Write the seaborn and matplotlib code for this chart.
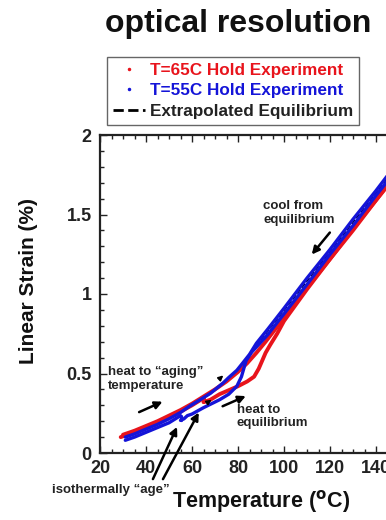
import pandas as pd
import matplotlib
matplotlib.use('Agg')
import matplotlib.pyplot as plt
import seaborn as sns
from matplotlib.lines import Line2D
from matplotlib.ticker import MultipleLocator

# T=65C hold experiment (red)
red_heat_T = [29, 35, 40, 45, 50, 55, 60, 65]
red_heat_s = [0.10, 0.13, 0.16, 0.19, 0.225, 0.26, 0.30, 0.345]
red_hold_T = [65, 65]
red_hold_s = [0.345, 0.32]
red_heat2_T = [65, 68, 72, 76, 80, 84, 87, 89, 90.5, 92, 94, 97, 100, 110, 120, 130, 140, 150]
red_heat2_s = [0.32, 0.335, 0.37, 0.395, 0.42, 0.45, 0.48, 0.53, 0.58, 0.63, 0.68, 0.75, 0.83, 1.03, 1.22, 1.40, 1.59, 1.77]
red_cool_T = [150, 140, 130, 120, 110, 100, 92, 88, 84, 80, 75, 70, 65, 60, 55, 50, 45, 40, 35, 30]
red_cool_s = [1.78, 1.59, 1.41, 1.22, 1.04, 0.85, 0.70, 0.63, 0.565, 0.51, 0.45, 0.40, 0.355, 0.31, 0.27, 0.235, 0.20, 0.17, 0.14, 0.115]

# T=55C hold experiment (blue)
blue_heat_T = [31, 35, 40, 45, 50, 55]
blue_heat_s = [0.08, 0.10, 0.13, 0.16, 0.19, 0.235]
blue_hold_T = [55, 55]
blue_hold_s = [0.235, 0.205]
blue_heat2_T = [55, 56.5, 58, 60, 65, 72, 76, 79.5, 81.5, 83.5, 86, 89.5, 93, 97, 100, 110, 120, 130, 140, 150]
blue_heat2_s = [0.205, 0.215, 0.235, 0.245, 0.285, 0.335, 0.37, 0.42, 0.48, 0.58, 0.635, 0.69, 0.745, 0.82, 0.875, 1.06, 1.25, 1.43, 1.62, 1.80]
blue_cool_T = [150, 140, 130, 120, 110, 100, 93, 88, 85, 82, 79.5, 76, 73.5, 68, 63, 59, 55, 50, 45, 40, 35, 31]
blue_cool_s = [1.84, 1.65, 1.47, 1.28, 1.10, 0.91, 0.78, 0.69, 0.62, 0.565, 0.52, 0.475, 0.44, 0.375, 0.33, 0.295, 0.255, 0.215, 0.18, 0.15, 0.12, 0.10]

# extrapolated equilibrium line
eq_T = [88, 150]
eq_s = [0.675, 1.82]

legend_labels = ['T=65C Hold Experiment', 'T=55C Hold Experiment', 'Extrapolated Equilibrium']
xticks = [20, 40, 60, 80, 100, 120, 140]
yticks = [0, 0.5, 1, 1.5, 2]
ytick_labels = ['0', '0.5', '1', '1.5', '2']

RED = '#e8141c'
BLUE = '#1414d8'


def build(parts):
    frames = []
    for i, (T, s) in enumerate(parts):
        frames.append(pd.DataFrame({'T': T, 'strain': s, 'seg': i}))
    return pd.concat(frames, ignore_index=True)


red = build([(red_heat_T, red_heat_s), (red_hold_T, red_hold_s),
             (red_heat2_T, red_heat2_s), (red_cool_T, red_cool_s)])
blue = build([(blue_heat_T, blue_heat_s), (blue_hold_T, blue_hold_s),
              (blue_heat2_T, blue_heat2_s), (blue_cool_T, blue_cool_s)])
eq = pd.DataFrame({'T': eq_T, 'strain': eq_s})

sns.set_style('ticks')
plt.rcParams['font.family'] = ['Liberation Sans', 'DejaVu Sans']
plt.rcParams['font.weight'] = 'bold'

fig = plt.figure(figsize=(3.86, 5.2), dpi=100)
ax = fig.add_axes([100 / 386, 67 / 520, 414 / 386, 318 / 520])

sns.lineplot(data=eq, x='T', y='strain', ax=ax, color='k', lw=1, ls='--', zorder=1)
sns.lineplot(data=red, x='T', y='strain', units='seg', estimator=None, sort=False,
             ax=ax, color=RED, lw=2.8, zorder=2)
sns.lineplot(data=blue, x='T', y='strain', units='seg', estimator=None, sort=False,
             ax=ax, color=BLUE, lw=2.4, zorder=3)

ax.set_xlim(20, 200)
ax.set_ylim(0, 2)
ax.set_xticks(xticks)
ax.set_yticks(yticks)
ax.set_yticklabels(ytick_labels)
ax.xaxis.set_minor_locator(MultipleLocator(5))
ax.yaxis.set_minor_locator(MultipleLocator(0.1))
ax.tick_params(which='both', direction='in', top=True, right=True, colors='#222',
               labelsize=13, width=1)
ax.tick_params(which='major', length=5)
ax.tick_params(which='minor', length=3)
ax.tick_params(axis='x', pad=5)
ax.tick_params(axis='y', pad=6)
for lab in ax.get_xticklabels() + ax.get_yticklabels():
    lab.set_fontweight('bold')
for sp in ax.spines.values():
    sp.set_linewidth(1.6)
    sp.set_color('#222')

ax.set_xlabel('Temperature ($\\mathbf{^{o}}$C)', fontsize=15.5, weight='bold', color='#111')
ax.set_ylabel('Linear Strain (%)', fontsize=15, weight='bold', color='#111')
ax.xaxis.set_label_coords(0.389, -0.11)
ax.yaxis.set_label_coords(-0.15, 0.54)

fig.text(0.618, 0.953, 'optical resolution', ha='center', va='center',
         fontsize=23, weight='bold', color='#111')

# annotations
txt = dict(fontsize=9.5, weight='bold', color='#222', linespacing=1.15, va='top', ha='left')
ax.text(23.5, 0.545, 'heat to \u201caging\u201d\ntemperature', **txt)
ax.text(79.4, 0.31, 'heat to\nequilibrium', **txt)
ax.text(91, 1.59, 'cool from\nequilibrium', **txt)
fig.text(52 / 386, 1 - 490 / 520, 'isothermally \u201cage\u201d', fontsize=9.5, weight='bold',
         color='#222', ha='left', va='center')

arr = dict(arrowstyle='-|>', color='k', lw=1.8, mutation_scale=11)
ax.annotate('', xy=(48.3, 0.33), xytext=(35.9, 0.25), arrowprops=arr)
ax.annotate('', xy=(84.5, 0.365), xytext=(72.2, 0.287), arrowprops=arr)
ax.annotate('', xy=(111.3, 1.235), xytext=(120.7, 1.40), arrowprops=arr)
ax.annotate('', xy=(54, 0.18), xytext=(42.5, -0.18), arrowprops=arr, annotation_clip=False)
ax.annotate('', xy=(63.5, 0.27), xytext=(46.8, -0.18), arrowprops=arr, annotation_clip=False)
small = dict(arrowstyle='-|>', color='k', lw=1.2, mutation_scale=7)
ax.annotate('', xy=(74.5, 0.50), xytext=(71.5, 0.46), arrowprops=small)
ax.annotate('', xy=(69.5, 0.345), xytext=(66.5, 0.315), arrowprops=small)

handles = [Line2D([], [], marker='.', ms=3, ls='none', color=RED),
           Line2D([], [], marker='.', ms=3, ls='none', color=BLUE),
           Line2D([], [], ls='--', lw=2, color='k')]
leg = ax.legend(handles, legend_labels, loc='upper left',
                bbox_to_anchor=(107 / 386, 1 - 57 / 520), bbox_transform=fig.transFigure,
                fancybox=False, framealpha=1, edgecolor='#666', borderpad=0.35,
                labelspacing=0.32, handlelength=1.9, handletextpad=0.25, borderaxespad=0,
                prop={'weight': 'bold', 'size': 12.3})
leg.get_frame().set_linewidth(1)
for t, c in zip(leg.get_texts(), [RED, BLUE, '#222']):
    t.set_color(c)

plt.savefig('out.png', dpi=100)
